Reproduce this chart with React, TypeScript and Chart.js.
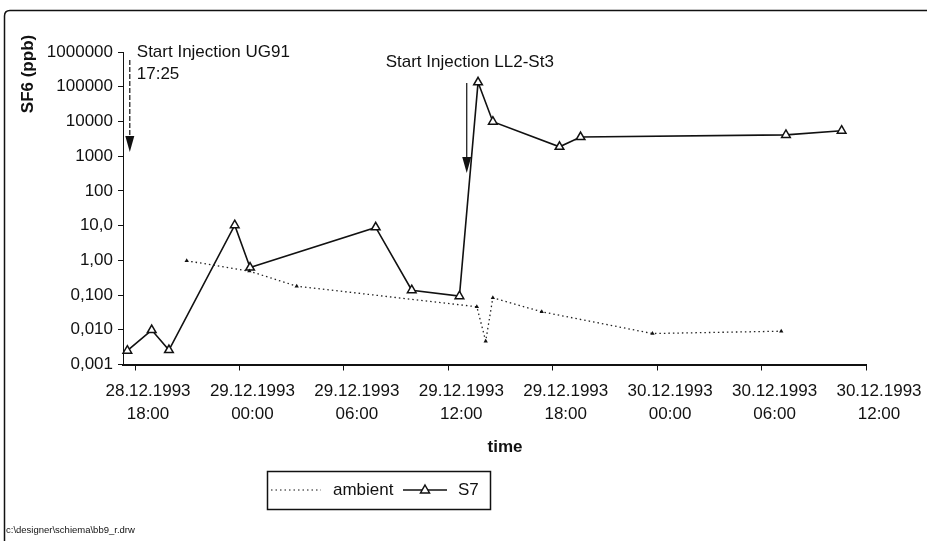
import React, { useEffect, useRef } from "react";
import { Chart, registerables } from "chart.js";

Chart.register(...registerables);

// ---- data (hours counted from 28.12.1993 00:00) ----
const xTickHours = [18, 24, 30, 36, 42, 48, 54, 60];
const xTickLabels = [
  ["28.12.1993", "18:00"],
  ["29.12.1993", "00:00"],
  ["29.12.1993", "06:00"],
  ["29.12.1993", "12:00"],
  ["29.12.1993", "18:00"],
  ["30.12.1993", "00:00"],
  ["30.12.1993", "06:00"],
  ["30.12.1993", "12:00"],
];
const yTickValues = [0.001, 0.01, 0.1, 1, 10, 100, 1000, 10000, 100000, 1000000];
const yTickLabels = ["0,001", "0,010", "0,100", "1,00", "10,0", "100", "1000", "10000", "100000", "1000000"];

const s7Hours = [17.56, 18.96, 19.95, 23.73, 24.61, 31.83, 33.9, 36.64, 37.71, 38.56, 42.39, 43.6, 55.4, 58.6];
const s7Values = [0.0025, 0.0098, 0.0026, 10.3, 0.62, 8.9, 0.138, 0.093, 134000, 9800, 1860, 3550, 4100, 5400];

const ambientHours = [20.97, 24.57, 27.29, 37.64, 38.15, 38.56, 41.37, 47.73, 55.13];
const ambientValues = [0.97, 0.49, 0.18, 0.046, 0.0047, 0.083, 0.033, 0.0078, 0.0091];

const injectionHours = [17.7, 37.06];
const injectionArrowTop = [590000, 128000];
const injectionArrowTip = [1320, 326];
const injectionLabels = [["Start Injection UG91", "17:25"], ["Start Injection LL2-St3"]];

const seriesNames = ["ambient", "S7"];
const yTitle = "SF6 (ppb)";
const xTitle = "time";
const footer = "c:\\designer\\schiema\\bb9_r.drw";

const FONT = "'Liberation Sans', Arial, sans-serif";

const decorPlugin = {
  id: "decor",
  beforeDraw(chart: any) {
    const ctx = chart.ctx;
    ctx.save();
    ctx.fillStyle = "#fff";
    ctx.fillRect(0, 0, chart.width, chart.height);
    ctx.restore();
  },
  afterDraw(chart: any) {
    const ctx = chart.ctx;
    const xs = chart.scales.x;
    const ys = chart.scales.y;
    ctx.save();
    // frame
    ctx.strokeStyle = "#111";
    ctx.lineWidth = 1.5;
    ctx.beginPath();
    ctx.moveTo(4.5, 541);
    ctx.lineTo(4.5, 16);
    ctx.quadraticCurveTo(4.5, 10.5, 10, 10.5);
    ctx.lineTo(927, 10.5);
    ctx.stroke();

    // injection arrows + labels
    injectionHours.forEach((h, i) => {
      const x = xs.getPixelForValue(h);
      const yTop = ys.getPixelForValue(injectionArrowTop[i]);
      const yTip = ys.getPixelForValue(injectionArrowTip[i]);
      ctx.strokeStyle = "#111";
      ctx.lineWidth = 1.2;
      ctx.setLineDash(i === 0 ? [5, 2] : []);
      ctx.beginPath();
      ctx.moveTo(x, yTop);
      ctx.lineTo(x, yTip - 12);
      ctx.stroke();
      ctx.setLineDash([]);
      ctx.fillStyle = "#111";
      ctx.beginPath();
      ctx.moveTo(x - 4.5, yTip - 16);
      ctx.lineTo(x + 4.5, yTip - 16);
      ctx.lineTo(x, yTip);
      ctx.closePath();
      ctx.fill();

      ctx.font = `17px ${FONT}`;
      ctx.fillStyle = "#111";
      ctx.textBaseline = "middle";
      if (i === 0) {
        ctx.textAlign = "left";
        ctx.fillText(injectionLabels[i][0], x + 7, yTop - 8);
        ctx.fillText(injectionLabels[i][1], x + 7, yTop + 14);
      } else {
        ctx.textAlign = "center";
        ctx.fillText(injectionLabels[i][0], x + 3, yTop - 21);
      }
    });

    // axis titles
    ctx.fillStyle = "#111";
    ctx.font = `bold 17px ${FONT}`;
    ctx.textAlign = "center";
    ctx.textBaseline = "middle";
    ctx.fillText(xTitle, 505, 447);
    ctx.save();
    ctx.translate(28, 74);
    ctx.rotate(-Math.PI / 2);
    ctx.fillText(yTitle, 0, 0);
    ctx.restore();

    // legend
    ctx.lineWidth = 1.5;
    ctx.strokeStyle = "#111";
    ctx.strokeRect(267.5, 471.5, 223, 38);
    const ly = 490;
    ctx.lineWidth = 1.2;
    ctx.setLineDash([1.5, 3]);
    ctx.beginPath();
    ctx.moveTo(271, ly);
    ctx.lineTo(321, ly);
    ctx.stroke();
    ctx.setLineDash([]);
    ctx.lineWidth = 1.5;
    ctx.beginPath();
    ctx.moveTo(403, ly);
    ctx.lineTo(447, ly);
    ctx.stroke();
    ctx.fillStyle = "#fff";
    ctx.beginPath();
    ctx.moveTo(425, ly - 5);
    ctx.lineTo(429.5, ly + 3);
    ctx.lineTo(420.5, ly + 3);
    ctx.closePath();
    ctx.fill();
    ctx.stroke();
    ctx.fillStyle = "#111";
    ctx.font = `17px ${FONT}`;
    ctx.textAlign = "left";
    ctx.textBaseline = "middle";
    ctx.fillText(seriesNames[0], 333, ly);
    ctx.fillText(seriesNames[1], 458, ly);

    // footer
    ctx.font = `9.5px ${FONT}`;
    ctx.fillText(footer, 6, 530);
    ctx.restore();
  },
};

export default function App() {
  const ref = useRef<HTMLCanvasElement | null>(null);
  useEffect(() => {
    if (!ref.current) return;
    const chart = new Chart(ref.current, {
      type: "line",
      data: {
        datasets: [
          {
            label: seriesNames[0],
            data: ambientHours.map((h, i) => ({ x: h, y: ambientValues[i] })),
            borderColor: "#222",
            borderWidth: 1.3,
            borderDash: [1.5, 3],
            pointStyle: "triangle",
            pointRadius: 2.5,
            pointBackgroundColor: "#111",
            pointBorderWidth: 0,
            tension: 0,
            clip: false,
          },
          {
            label: seriesNames[1],
            data: s7Hours.map((h, i) => ({ x: h, y: s7Values[i] })),
            borderColor: "#111",
            borderWidth: 1.6,
            pointStyle: "triangle",
            pointRadius: 5,
            pointBackgroundColor: "#fff",
            pointBorderColor: "#111",
            pointBorderWidth: 1.5,
            tension: 0,
            clip: false,
          },
        ],
      },
      options: {
        animation: false,
        responsive: false,
        devicePixelRatio: 1,
        layout: { padding: { top: 52, right: 61, left: 0, bottom: 0 } },
        plugins: { legend: { display: false }, tooltip: { enabled: false } },
        scales: {
          x: {
            type: "linear",
            min: 17.31,
            max: 60,
            afterBuildTicks: (s: any) => {
              s.ticks = xTickHours.map((v) => ({ value: v }));
            },
            afterFit: (s: any) => {
              s.height = 176.5;
            },
            border: { display: true, color: "#111", width: 2 },
            grid: { drawOnChartArea: false, drawTicks: true, tickLength: 6, color: "#111" },
            ticks: {
              autoSkip: false,
              maxRotation: 0,
              minRotation: 0,
              padding: 9,
              labelOffset: 13,
              color: "#111",
              font: { family: FONT, size: 17, lineHeight: 1.35 },
              callback: (_v: any, i: number) => xTickLabels[i],
            },
          },
          y: {
            type: "logarithmic",
            min: 0.001,
            max: 1000000,
            afterBuildTicks: (s: any) => {
              s.ticks = yTickValues.map((v) => ({ value: v }));
            },
            afterFit: (s: any) => {
              s.width = 123;
            },
            border: { display: true, color: "#111", width: 1 },
            grid: { drawOnChartArea: false, drawTicks: true, tickLength: 5, color: "#111" },
            ticks: {
              autoSkip: false,
              padding: 5,
              color: "#111",
              font: { family: FONT, size: 17 },
              callback: (_v: any, i: number) => yTickLabels[i],
            },
          },
        },
      },
      plugins: [decorPlugin],
    } as any);
    return () => chart.destroy();
  }, []);
  return (
    <div style={{ position: "fixed", left: 0, top: 0, width: 927, height: 541, background: "#fff" }}>
      <canvas ref={ref} width={927} height={541} style={{ display: "block" }} />
    </div>
  );
}
